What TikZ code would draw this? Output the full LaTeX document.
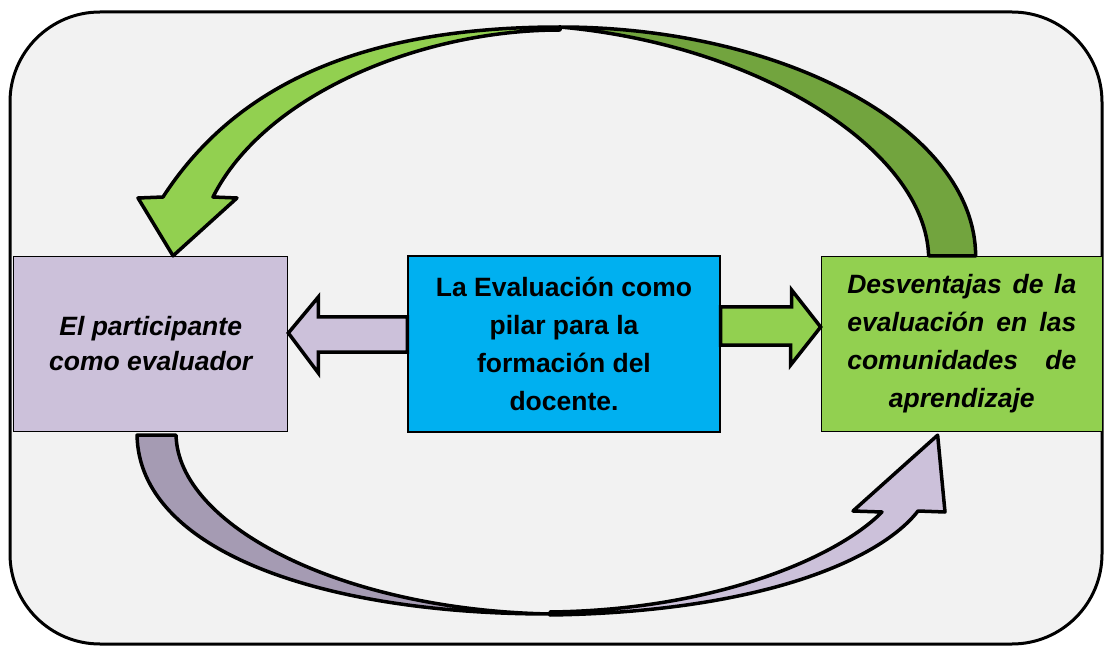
\documentclass[tikz,border=0pt]{standalone}
\usepackage{fontspec}
\setmainfont{Liberation Sans}
\usepackage{xcolor}
\usetikzlibrary{calc,positioning}

\definecolor{fondo}{HTML}{F2F2F2}
\definecolor{lila}{HTML}{CCC1DA}
\definecolor{lilaosc}{HTML}{A59BB3}
\definecolor{azul}{HTML}{00B0F0}
\definecolor{verde}{HTML}{92D050}
\definecolor{verdeosc}{HTML}{72A43E}

\begin{document}
\begin{tikzpicture}[x=1pt,y=-1pt,
    caja/.style={draw, line width=1.3pt, inner sep=0pt, align=center,
        font=\fontsize{26.5}{38}\selectfont\bfseries},
    cursiva/.style={font=\fontsize{26.5}{38}\selectfont\bfseries\itshape},
    flecha/.style={draw, line width=3.5pt, line join=miter},
    cinta/.style={draw, line width=3.5pt, line join=round}]
    \useasboundingbox (0,0) rectangle (1104,647);
    \fill[white] (0,0) rectangle (1104,647);
    \draw[line width=3pt, fill=fondo, rounded corners=90pt] (10,12) rectangle (1102,644);

    % cajas
    \node[caja, fill=azul, minimum width=312pt, minimum height=176pt] (evaluacion) at (564,344)
        {La Evaluación como\\pilar para la\\formación del\\docente.};
    \node[caja, cursiva, fill=lila, minimum width=274pt, minimum height=175pt, left=119pt of evaluacion,
        font=\fontsize{26.5}{35}\selectfont\bfseries\itshape] (participante)
        {El participante\\como evaluador};
    \node[caja, cursiva, fill=verde, minimum width=281pt, minimum height=175pt, right=100pt of evaluacion] (desventajas)
        {\makebox[229pt][s]{Desventajas de la}\\\makebox[229pt][s]{evaluación en las}\\\makebox[229pt][s]{comunidades de}\\aprendizaje};

    % flechas rectas
    \draw[flecha, fill=lila] ($(evaluacion.west)+(0,-27)$) -- ++(-89,0) -- ++(0,-20)
        -- ($(participante.east)+(0,-11)$) -- ++(30,40) -- ++(0,-21) -- ($(evaluacion.west)+(0,8)$) -- cycle;
    \draw[flecha, fill=verde] ($(evaluacion.east)+(0,-37)$) -- ++(71,0) -- ++(0,-17)
        -- ($(desventajas.west)+(0,-17)$) -- ++(-30,38) -- ++(0,-20) -- ($(evaluacion.east)+(0,1)$) -- cycle;

    % flecha curva superior
    \coordinate (supA) at ($(desventajas.north west)+(108,0)$);
    \coordinate (supB) at ($(desventajas.north west)+(155,0)$);
    \coordinate (supP) at ($(participante.north west)+(160,0)$);
    \draw[cinta, fill=verdeosc] (supB) .. controls (975,129) and (783,27) .. (560,27)
        .. controls (760,45) and (925,150) .. (supA) -- cycle;
    \draw[cinta, fill=verde] (560,27) .. controls (360,27) and (235,86) .. (163,197)
        -- (138,198) -- (supP) -- (237,198) -- (213,197)
        .. controls (264,95) and (420,30) .. (560,30) -- cycle;

    % flecha curva inferior
    \coordinate (infA) at ($(participante.south west)+(124,3)$);
    \coordinate (infB) at ($(participante.south west)+(163,3)$);
    \coordinate (infP) at ($(desventajas.south west)+(117,3)$);
    \draw[cinta, fill=lilaosc] (infA) .. controls (139,550) and (320,614) .. (550,614)
        .. controls (340,610) and (178,525) .. (infB) -- cycle;
    \draw[cinta, fill=lila] (550,615) .. controls (760,612) and (880,560) .. (918,511)
        -- (945,512) -- (infP) -- (853,511) -- (882,512)
        .. controls (840,555) and (720,610) .. (550,612) -- cycle;
\end{tikzpicture}
\end{document}
